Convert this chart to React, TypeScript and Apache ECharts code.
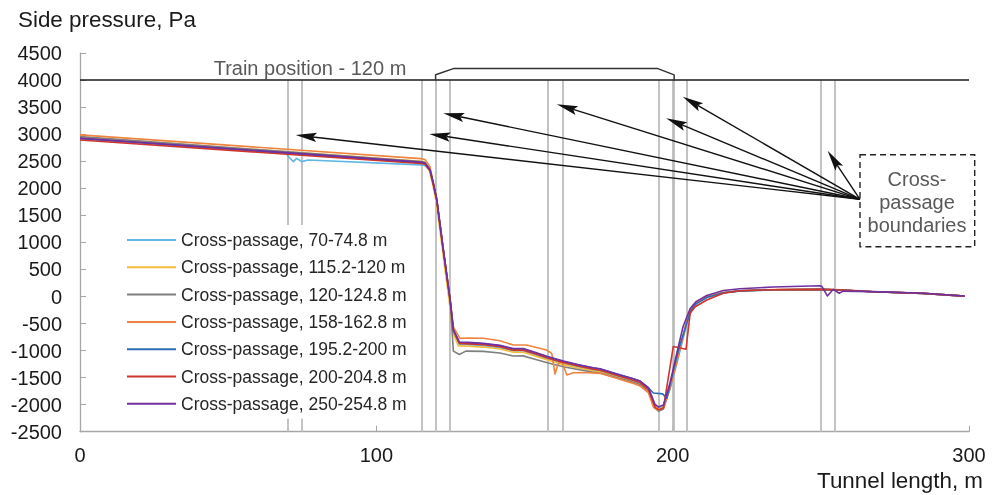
import React, { useEffect, useRef } from "react";
import * as echarts from "echarts";

const seriesNames = [
  "Cross-passage, 70-74.8 m",
  "Cross-passage, 115.2-120 m",
  "Cross-passage, 120-124.8 m",
  "Cross-passage, 158-162.8 m",
  "Cross-passage, 195.2-200 m",
  "Cross-passage, 200-204.8 m",
  "Cross-passage, 250-254.8 m",
];
const seriesColors = ["#5FB6E4", "#F3BE3A", "#7F7F7F", "#EE8440", "#2D6CB5", "#D0342C", "#7030A0"];

const cp70 = [[0,2935],[69.5,2662],[70.3,2590],[72,2495],[73.1,2556],[74.8,2495],[77,2525],[115,2435],[116.4,2425],[118.1,2320],[119.2,2085],[120.4,1775],[122.6,845],[124.9,-90],[126,-650],[128,-885],[131,-892],[136.1,-909],[141.7,-946],[146.2,-1007],[149.6,-1007],[153.5,-1075],[158,-1155],[163.1,-1236],[168,-1300],[173.2,-1358],[175.5,-1377],[181,-1470],[186.7,-1562],[189,-1606],[191.8,-1728],[194,-2030],[195.2,-2075],[196.9,-2040],[199.1,-1700],[201.4,-1240],[204.8,-500],[206.4,-240],[208.5,-110],[211.5,-20],[217.1,65],[222.7,103],[234,124],[249.7,132],[257,120],[267.5,89],[284.5,59],[298.5,8]];
const cp115 = [[0,2950],[115.2,2500],[116.1,2490],[117.8,2345],[118.9,2100],[120.1,1790],[122.3,860],[124.6,-90],[125.7,-660],[127.7,-912],[131,-920],[136.1,-935],[141.7,-972],[146.2,-1032],[149.6,-1032],[153.5,-1100],[158,-1180],[163.1,-1260],[168,-1322],[173.2,-1380],[175.5,-1398],[181,-1490],[186.7,-1580],[189,-1622],[191.8,-1745],[194,-2040],[195.2,-2085],[196.9,-2045],[199.1,-1690],[201.4,-1195],[204.8,-445],[206.4,-208],[208.5,-88],[211.5,-4],[217.1,73],[222.7,106],[234,126],[249.7,133],[257,121],[267.5,89],[284.5,59],[298.5,8]];
const cp120 = [[0,2960],[115,2495],[116.4,2480],[118.1,2355],[119.2,2100],[120.4,1790],[122.6,870],[124.9,-50],[126,-1010],[128,-1072],[130.2,-1010],[136.1,-1015],[141.7,-1045],[146.2,-1100],[149.6,-1098],[153.5,-1160],[158,-1230],[163.1,-1300],[168,-1350],[173.2,-1400],[175.5,-1415],[181,-1500],[186.7,-1585],[189,-1625],[191.8,-1760],[194,-2060],[195.2,-2120],[196.9,-2080],[199.1,-1700],[201.4,-1200],[204.8,-455],[206.4,-215],[208.5,-95],[211.5,-10],[217.1,70],[222.7,105],[234,125],[249.7,132],[257,120],[267.5,88],[284.5,58],[298.5,8]];
const cp158 = [[0,2990],[115,2550],[116.4,2535],[118.1,2400],[119.2,2120],[120.4,1800],[122.6,880],[124.9,-40],[126,-560],[128.2,-773],[131,-768],[136.1,-773],[141.7,-818],[146.2,-897],[150.7,-897],[157.4,-990],[159.2,-1051],[160.3,-1434],[161.4,-1236],[162.6,-1206],[164.3,-1452],[166.5,-1410],[170,-1405],[175.5,-1421],[181,-1512],[186.7,-1606],[189,-1655],[191.8,-1775],[193.5,-2050],[195.2,-2100],[196.9,-2055],[199.1,-1690],[201.4,-1200],[204.8,-450],[206.4,-215],[208.5,-90],[211.5,-8],[217.1,72],[222.7,107],[234,128],[249.7,136],[257,124],[267.5,90],[284.5,59],[298.5,8]];
const cp195 = [[0,2920],[115,2475],[116.4,2460],[118.1,2340],[119.2,2094],[120.4,1785],[122.6,860],[124.9,-65],[126,-620],[128,-850],[131,-858],[136.1,-875],[141.7,-912],[146.2,-972],[149.6,-972],[153.5,-1040],[158,-1120],[163.1,-1200],[168,-1265],[173.2,-1322],[175.5,-1340],[181,-1432],[186.7,-1522],[189,-1565],[191.8,-1690],[193.5,-1785],[196.6,-1800],[198,-1880],[201.9,-1000],[205.9,-290],[207.5,-150],[211.5,-20],[217.1,70],[222.7,105],[234,124],[249.7,132],[257,120],[267.5,89],[284.5,59],[298.5,8]];
const cp200 = [[0,2895],[115,2460],[116.4,2445],[118.1,2330],[119.2,2085],[120.4,1780],[122.6,855],[124.9,-70],[126,-630],[128,-868],[131,-875],[136.1,-893],[141.7,-930],[146.2,-992],[149.6,-992],[153.5,-1060],[158,-1140],[163.1,-1222],[168,-1286],[173.2,-1343],[175.5,-1362],[181,-1455],[186.7,-1548],[189,-1592],[191.8,-1715],[194.2,-2060],[195.4,-2095],[196.9,-2060],[200.2,-925],[204.5,-975],[205.9,-311],[207.6,-189],[211.5,-65],[217.1,59],[222.7,107],[234,126],[249.7,133],[257,122],[267.5,89],[284.5,59],[298.5,8]];
const cp250 = [[0,2930],[115,2485],[116.4,2468],[118.1,2345],[119.2,2100],[120.4,1790],[122.6,865],[124.9,-60],[126,-610],[128,-840],[131,-848],[136.1,-866],[141.7,-903],[146.2,-962],[149.6,-962],[153.5,-1032],[158,-1112],[163.1,-1192],[168,-1258],[173.2,-1316],[175.5,-1335],[181,-1428],[186.7,-1520],[189,-1563],[191.8,-1685],[194,-1990],[195.2,-2045],[196.9,-2005],[199.1,-1600],[201.4,-1050],[203.5,-560],[205.9,-220],[208,-90],[211.5,20],[217.1,110],[222.7,145],[234,175],[249.7,200],[250.4,185],[252.2,10],[254.2,133],[256.2,60],[257.5,100],[267.5,90],[284.5,60],[298.5,10]];
const seriesData = [cp70, cp115, cp120, cp158, cp195, cp200, cp250];

const boundaries = [70, 74.8, 115.2, 120, 124.8, 158, 162.8, 195.2, 200, 200.4, 204.8, 250, 254.8];
const trainOutline = [[120,4000],[120,4100],[126,4215],[195,4215],[200.5,4100],[200.5,4000]];
const arrowOrigin = [263.2, 1798];
const arrowTips = [[72.8,2987],[117.9,3006],[122.6,3389],[160.9,3555],[197.8,3296],[203.4,3696],[252.3,2697]];

const FONT = "'Liberation Sans', Arial, Helvetica, sans-serif";

export default function App() {
  const ref = useRef<HTMLDivElement>(null);
  useEffect(() => {
    const chart = echarts.init(ref.current!, null, { renderer: "svg" });
    const axisColor = "#A6A6A6";
    const lineSeries = seriesNames.map((name, i) => ({
      name,
      type: "line",
      data: seriesData[i],
      symbol: "none",
      color: seriesColors[i],
      lineStyle: { width: 1.6, color: seriesColors[i], join: "round" },
      z: 3,
      emphasis: { disabled: true },
    }));
    const option: any = {
      animation: false,
      textStyle: { fontFamily: FONT },
      grid: { left: 80, right: 29, top: 53.2, bottom: 63.3 },
      xAxis: {
        type: "value",
        min: 0,
        max: 300,
        interval: 100,
        axisLine: { onZero: false, lineStyle: { color: axisColor, width: 1.3 } },
        axisTick: { inside: true, length: 6, lineStyle: { color: axisColor } },
        axisLabel: { fontSize: 20, color: "#1a1a1a", margin: 13, fontFamily: FONT, formatter: (v: number) => String(v) },
        splitLine: { show: false },
      },
      yAxis: {
        type: "value",
        min: -2500,
        max: 4500,
        interval: 500,
        axisLine: { show: true, onZero: false, lineStyle: { color: axisColor, width: 1.3 } },
        axisTick: { show: true, inside: true, length: 6, lineStyle: { color: axisColor } },
        axisLabel: { fontSize: 20, color: "#1a1a1a", margin: 18, fontFamily: FONT, formatter: (v: number) => String(v) },
        splitLine: { show: false },
      },
      legend: {
        data: seriesNames,
        orient: "vertical",
        left: 122,
        top: 225,
        padding: 5,
        itemGap: 7.3,
        itemWidth: 49,
        itemHeight: 2,
        icon: "rect",
        backgroundColor: "#ffffff",
        z: 6,
        textStyle: { fontSize: 17.5, lineHeight: 20, color: "#262626", fontFamily: FONT },
        selectedMode: false,
      },
      series: [
        {
          name: "boundaries",
          type: "line",
          data: [],
          symbol: "none",
          z: 1,
          markLine: {
            silent: true,
            z: 1,
            symbol: "none",
            label: { show: false },
            lineStyle: { color: "#BDBDBD", width: 1.8, type: "solid" },
            emphasis: { disabled: true },
            data: boundaries.map((b) => [{ coord: [b, 4000] }, { coord: [b, -2500] }]),
          },
        },
        {
          name: "train",
          type: "line",
          data: trainOutline,
          symbol: "none",
          z: 2,
          lineStyle: { color: "#333333", width: 1.5 },
          emphasis: { disabled: true },
          markLine: {
            silent: true,
            z: 2,
            symbol: "none",
            label: { show: false },
            lineStyle: { color: "#1a1a1a", width: 1.5, type: "solid" },
            emphasis: { disabled: true },
            data: [[{ coord: [0, 4000] }, { coord: [300, 4000] }]],
          },
        },
        ...lineSeries,
      ],
    };
    chart.setOption(option);

    const toPx = (p: number[]) => chart.convertToPixel({ gridIndex: 0 }, p) as number[];
    const o = toPx(arrowOrigin);
    const elements: any[] = [];
    arrowTips.forEach((t) => {
      const tp = toPx(t);
      const dx = tp[0] - o[0];
      const dy = tp[1] - o[1];
      const len = Math.sqrt(dx * dx + dy * dy);
      const ux = dx / len;
      const uy = dy / len;
      const L = 21;
      const W = 4.6;
      const bx = tp[0] - ux * L;
      const by = tp[1] - uy * L;
      const nx = -uy;
      const ny = ux;
      const notchX = tp[0] - ux * L * 0.82;
      const notchY = tp[1] - uy * L * 0.82;
      elements.push({
        type: "line",
        silent: true,
        shape: { x1: o[0], y1: o[1], x2: notchX, y2: notchY },
        style: { stroke: "#111", lineWidth: 1.4 },
        z: 10,
      });
      elements.push({
        type: "polygon",
        silent: true,
        shape: { points: [[tp[0], tp[1]], [bx + nx * W, by + ny * W], [notchX, notchY], [bx - nx * W, by - ny * W]] },
        style: { fill: "#111" },
        z: 10,
      });
    });
    elements.push({
      type: "rect",
      silent: true,
      shape: { x: 860, y: 154.7, width: 114.7, height: 92 },
      style: { fill: "#fff", stroke: "#222", lineWidth: 1.4, lineDash: [6, 4] },
      z: 9,
    });
    elements.push({
      type: "text",
      silent: true,
      x: 917,
      y: 202,
      style: { text: "Cross-\npassage\nboundaries", fontSize: 20, lineHeight: 23, fontFamily: FONT, fill: "#595959", align: "center", verticalAlign: "middle" },
      z: 11,
    });
    elements.push({
      type: "text",
      silent: true,
      x: 310,
      y: 68,
      style: { text: "Train position - 120 m", fontSize: 20, fontFamily: FONT, fill: "#595959", align: "center", verticalAlign: "middle" },
      z: 11,
    });
    elements.push({
      type: "text",
      silent: true,
      x: 18,
      y: 19,
      style: { text: "Side pressure, Pa", fontSize: 22.4, fontFamily: FONT, fill: "#1a1a1a", align: "left", verticalAlign: "middle" },
      z: 11,
    });
    elements.push({
      type: "text",
      silent: true,
      x: 983,
      y: 480,
      style: { text: "Tunnel length, m", fontSize: 22.4, fontFamily: FONT, fill: "#1a1a1a", align: "right", verticalAlign: "middle" },
      z: 11,
    });
    chart.setOption({ graphic: elements });
    return () => chart.dispose();
  }, []);
  return <div ref={ref} style={{ position: "fixed", left: 0, top: 0, width: 998, height: 495 }} />;
}
